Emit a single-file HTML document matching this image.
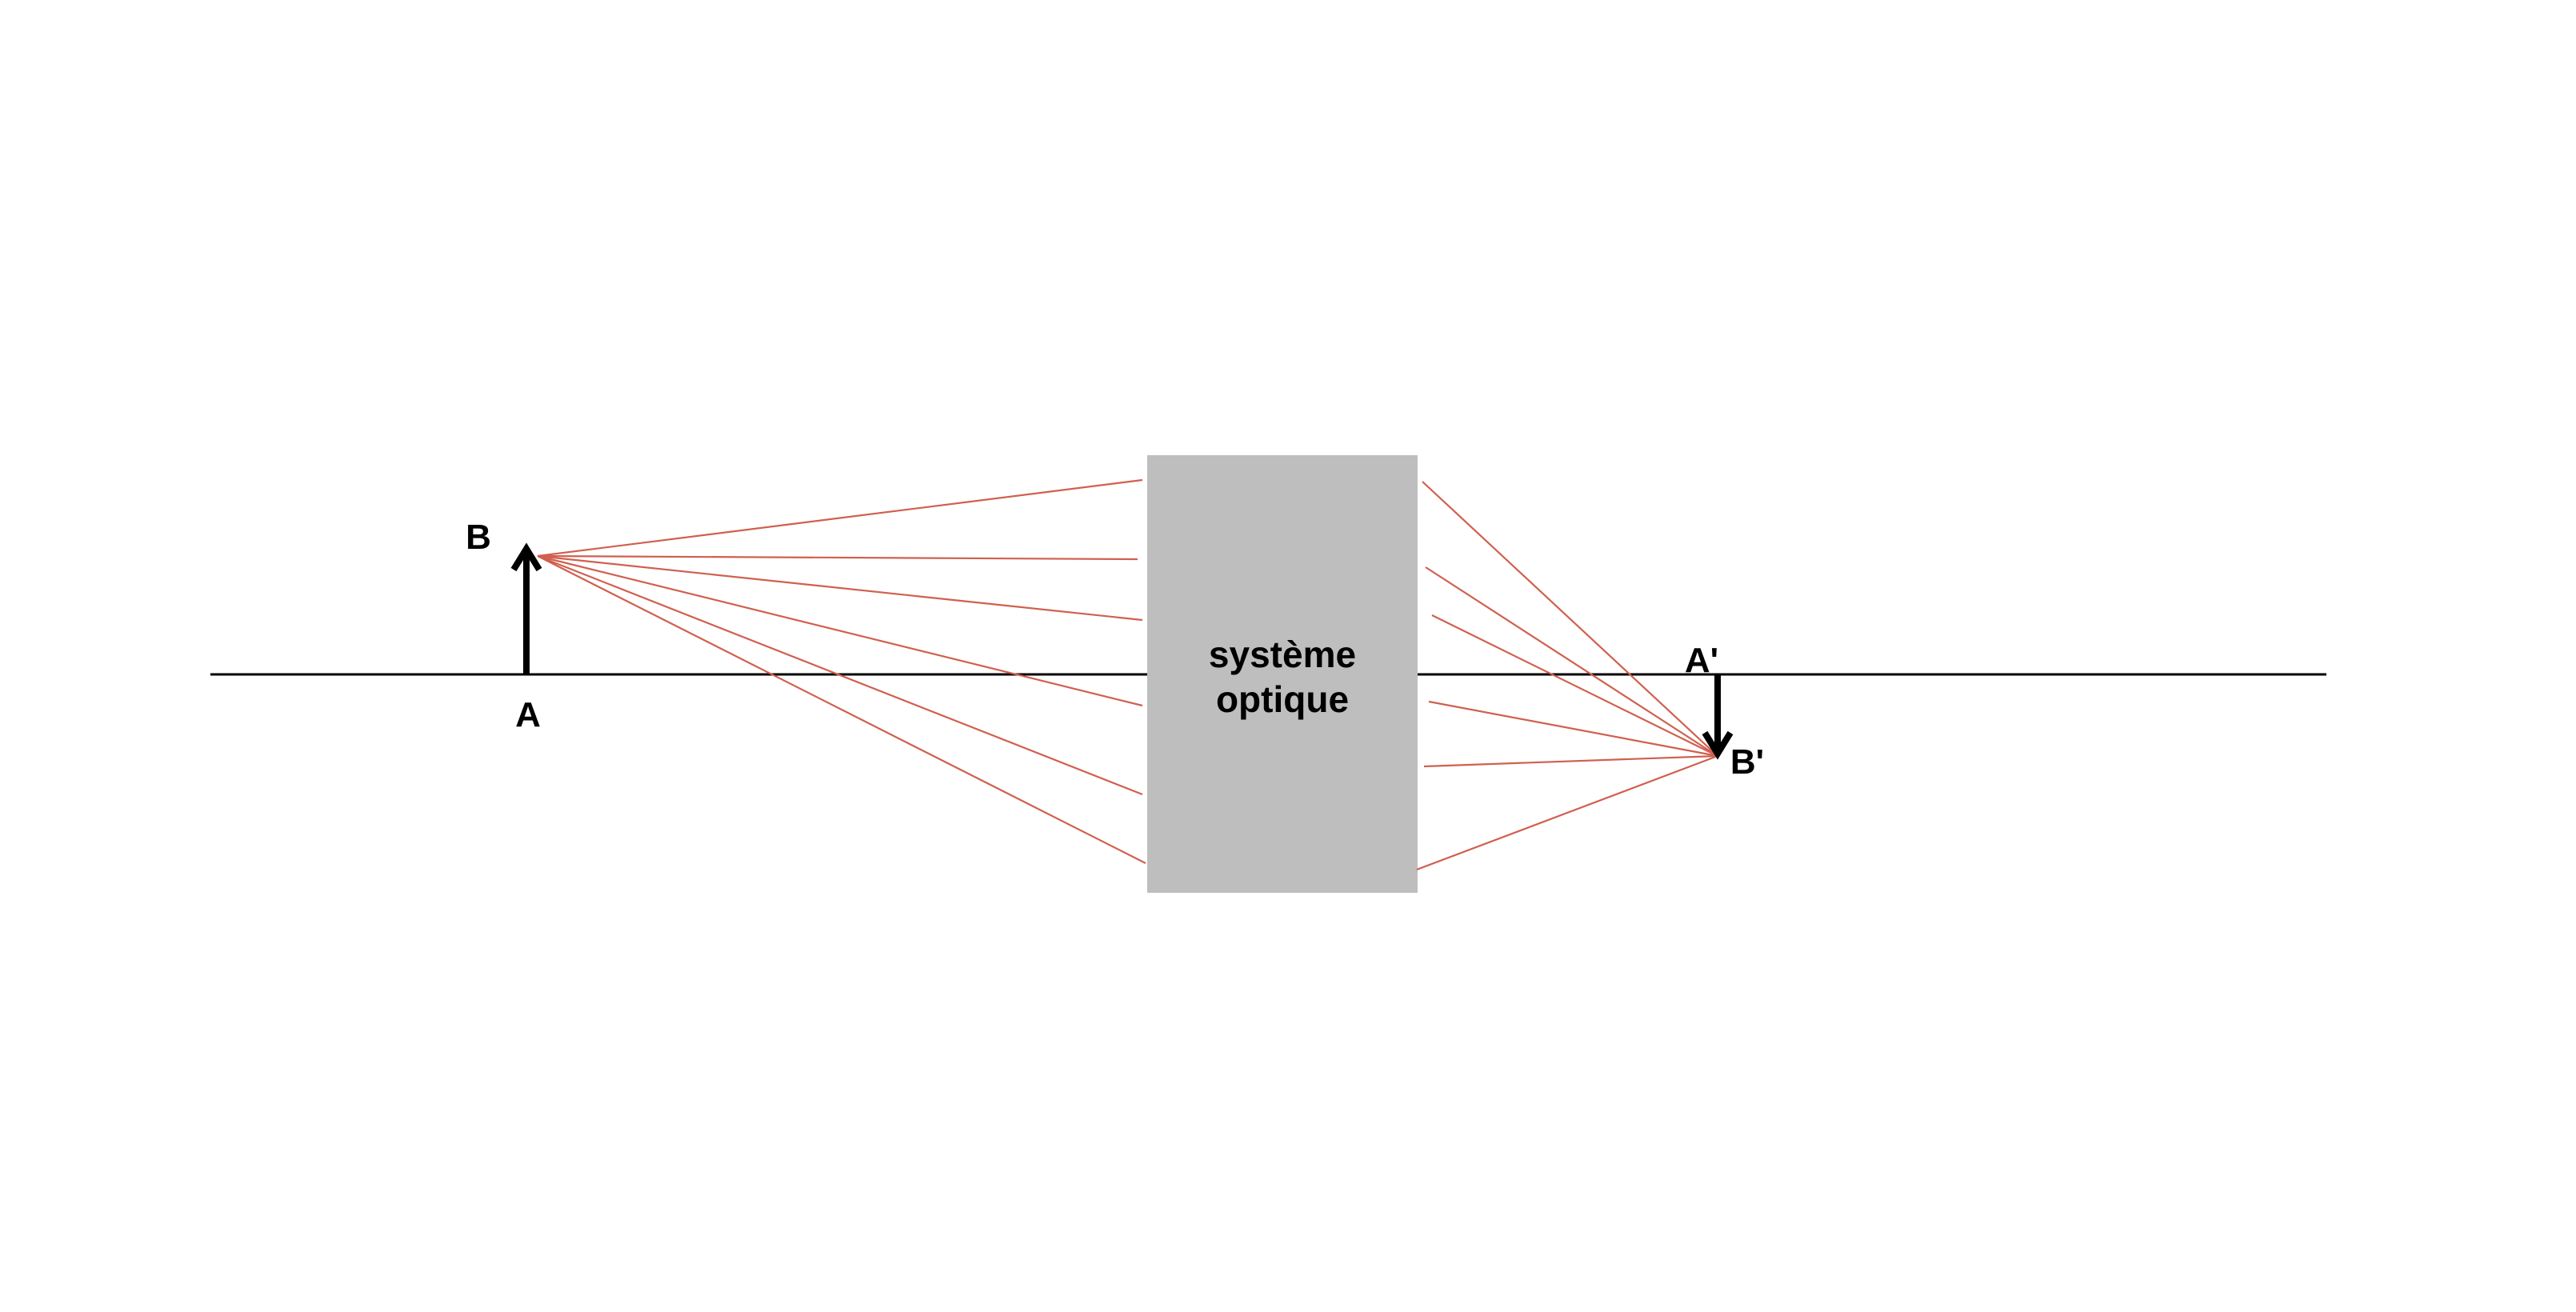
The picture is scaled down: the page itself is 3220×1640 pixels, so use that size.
<!DOCTYPE html>
<html><head><meta charset="utf-8"><style>
html,body{margin:0;padding:0;background:#fff;}
svg{display:block;}
text{font-family:"Liberation Sans",sans-serif;font-weight:bold;fill:#000;}
</style></head><body>
<svg id="chart" width="3220" height="1640" viewBox="0 0 3220 1640" xmlns="http://www.w3.org/2000/svg">
<line x1="263" y1="843" x2="2908" y2="843" stroke="#000" stroke-width="3"/>
<rect x="1434" y="569" width="338" height="547" fill="#bebebe"/>
<text x="1603" y="834" font-size="46" text-anchor="middle">système</text>
<text x="1603" y="890" font-size="46" text-anchor="middle">optique</text>
<g id="rays"></g>
<g stroke="#000" stroke-width="8" fill="none">
<line x1="658" y1="843" x2="658" y2="688"/>
<polyline points="642,712 658,686 674,712" stroke-linejoin="miter"/>
</g>
<g stroke="#000" stroke-width="8" fill="none">
<line x1="2147" y1="843" x2="2147" y2="940"/>
<polyline points="2131,916 2147,942 2163,916"/>
</g>
<text x="598" y="686" font-size="44" text-anchor="middle">B</text>
<text x="660" y="908" font-size="44" text-anchor="middle">A</text>
<text x="2127" y="840" font-size="44" text-anchor="middle">A'</text>
<text x="2184" y="967" font-size="44" text-anchor="middle">B'</text>
</svg>
<script>
// object point B and image point B'
const objectPoint = [672, 695];
const imagePoint = [2147, 945];
// incoming rays: end y at the box entrance
const incomingEndX = [1428, 1422, 1428, 1428, 1428, 1432];
const incomingEndY = [600, 699, 775, 882, 993, 1079];
// outgoing rays: start at box exit
const outgoingStartX = [1778, 1782, 1790, 1786, 1780, 1771];
const outgoingStartY = [602, 709, 769, 877, 958, 1087];
const g = document.getElementById('rays');
const NS = 'http://www.w3.org/2000/svg';
function ray(x1, y1, x2, y2, name) {
  const l = document.createElementNS(NS, 'line');
  l.setAttribute('x1', x1); l.setAttribute('y1', y1);
  l.setAttribute('x2', x2); l.setAttribute('y2', y2);
  l.setAttribute('stroke', '#d0604f');
  l.setAttribute('stroke-width', '2.2');
  
  
  g.appendChild(l);
}
for (let i = 0; i < incomingEndY.length; i++) {
  ray(objectPoint[0], objectPoint[1], incomingEndX[i], incomingEndY[i], 'incoming-ray');
}
for (let i = 0; i < outgoingStartY.length; i++) {
  ray(outgoingStartX[i], outgoingStartY[i], imagePoint[0], imagePoint[1], 'outgoing-ray');
}
</script>
</body></html>
